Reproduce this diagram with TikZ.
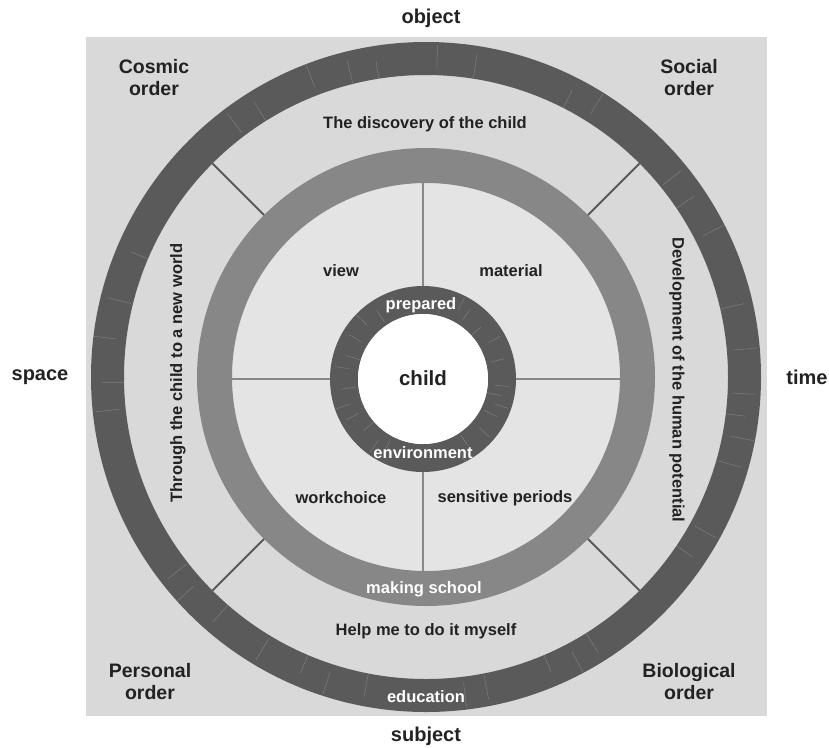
\documentclass[tikz,border=0pt]{standalone}
\usepackage{fontspec}
\setmainfont{Liberation Sans}
\usetikzlibrary{calc}
\definecolor{sqbg}{HTML}{D9D9D9}
\definecolor{innerbg}{HTML}{E4E4E4}
\definecolor{ringdark}{HTML}{5A5A5A}
\definecolor{ringmid}{HTML}{878787}
\definecolor{txtdark}{HTML}{222222}
\tikzset{
  axislbl/.style={font=\bfseries\fontsize{20}{22}\selectfont, text=txtdark},
  cornerlbl/.style={font=\bfseries\fontsize{19.5}{22}\selectfont, text=txtdark, align=center},
  ringlbl/.style={font=\bfseries\fontsize{16.5}{18}\selectfont, text=txtdark},
  whitelbl/.style={font=\bfseries\fontsize{16.5}{18}\selectfont, text=white},
  spoke/.style={draw=ringdark, line width=2pt},
  innerspoke/.style={draw=ringmid, line width=2pt},
  streak/.style={draw=white, opacity=0.22, line width=0.5pt}
}

\begin{document}
\begin{tikzpicture}[x=1pt,y=-1pt]
\useasboundingbox (0,0) rectangle (829,747);

% background square
\fill[sqbg] (86,37) rectangle (767,716);

% centres
\coordinate (O) at (426,377);
\coordinate (C) at (423,379);

% outer ring
\fill[ringdark,even odd rule] (O) circle (335) (O) circle (302);
\foreach \a/\r in {3/320,7/312,11/325,16/318,29/321,34/312,58/315,62/325,67/310,79/318,83/322,101/316,108/324,113/312,121/320,131/315,138/327,142/318,174/322,179/314,187/326,194/318,203/311,233/320,238/314,249/325,256/316,261/310,272/322,279/317,297/312,302/324,321/319,326/313,333/325,347/316,355/322}
  \draw[streak] ($(O)+(\a:\r-14)$) -- ($(O)+(\a:\r+10)$);

% middle ring and inner area
\fill[innerbg] (O) circle (195);
\fill[ringmid,even odd rule] (O) circle (229) (O) circle (194);

% inner ring
\fill[ringdark,even odd rule] (C) circle (93) (C) circle (65);
\fill[white] (C) circle (65);
\foreach \a/\r in {5/80,12/74,19/84,27/77,41/82,56/75,63/86,118/78,126/84,139/73,152/81,161/86,173/76,188/83,197/74,211/80,224/86,236/77,249/82,283/75,297/85,304/79,318/72,331/83,346/78}
  \draw[streak] ($(C)+(\a:\r-8)$) -- ($(C)+(\a:\r+6)$);

% spokes between outer and middle ring
\coordinate (m1) at ($(O)+(45:229)$);   \coordinate (o1) at ($(O)+(45:302)$);
\coordinate (m2) at ($(O)+(135:229)$);  \coordinate (o2) at ($(O)+(135:302)$);
\coordinate (m3) at ($(O)+(225:229)$);  \coordinate (o3) at ($(O)+(225:302)$);
\coordinate (m4) at ($(O)+(315:229)$);  \coordinate (o4) at ($(O)+(315:302)$);
\draw[spoke] (m1) -- (o1);
\draw[spoke] (m2) -- (o2);
\draw[spoke] (m3) -- (o3);
\draw[spoke] (m4) -- (o4);

% spokes between inner and middle ring
\coordinate (i1) at ($(C)+(0:93)$);    \coordinate (n1) at ($(O)+(0:194)$);
\coordinate (i2) at ($(C)+(90:93)$);   \coordinate (n2) at ($(O)+(90:194)$);
\coordinate (i3) at ($(C)+(180:93)$);  \coordinate (n3) at ($(O)+(180:194)$);
\coordinate (i4) at ($(C)+(270:93)$);  \coordinate (n4) at ($(O)+(270:194)$);
\draw[innerspoke] (i1) -- (n1 |- i1);
\draw[innerspoke] (i2) -- (n2 -| i2);
\draw[innerspoke] (i3) -- (n3 |- i3);
\draw[innerspoke] (i4) -- (n4 -| i4);

% axis labels
\node[axislbl] (object) at (431,18) {object};
\node[axislbl] (subject) at (426,736) {subject};
\node[axislbl] (space) at (40,377) {space};
\node[axislbl] (time) at (807,377) {time};

% corner labels
\node[cornerlbl] (cosmic) at (154,78) {Cosmic\\order};
\node[cornerlbl] (social) at (689,78) {Social\\order};
\node[cornerlbl] (personal) at (150,682) {Personal\\order};
\node[cornerlbl] (biological) at (689,682) {Biological\\order};

% outer band texts
\node[ringlbl] (discovery) at (425,124) {The discovery of the child};
\node[ringlbl] (helpme) at (426,631) {Help me to do it myself};
\node[ringlbl, rotate=90] (through) at (178,373) {Through the child to a new world};
\node[ringlbl, rotate=-90] (develop) at (677,380) {Development of the human potential};

% quadrant texts
\node[ringlbl] (view) at (341,271) {view};
\node[ringlbl] (material) at (511,271) {material};
\node[ringlbl] (workchoice) at (341,498) {workchoice};
\node[ringlbl] (sensitive) at (505,498) {sensitive periods};

% ring texts
\node[whitelbl] (prepared) at (421,305) {prepared};
\node[whitelbl] (environment) at (423,453) {environment};
\node[whitelbl] (makingschool) at (424,589) {making school};
\node[whitelbl] (education) at (426,697) {education};
\node[font=\bfseries\fontsize{20.5}{22}\selectfont, text=txtdark] (child) at (423,378) {child};

\end{tikzpicture}
\end{document}
